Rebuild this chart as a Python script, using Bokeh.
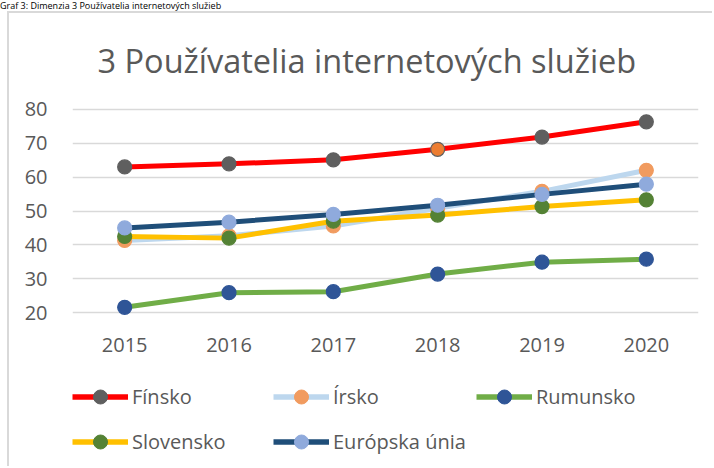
from bokeh.plotting import figure
from bokeh.models import (FactorRange, Range1d, FixedTicker, Legend, LegendItem,
                          ColumnDataSource, Title, Div)
from bokeh.layouts import column
from bokeh.embed import file_html
from bokeh.resources import INLINE

# ---------------- data ----------------
years = ["2015", "2016", "2017", "2018", "2019", "2020"]
finsko = [63.0, 63.9, 65.1, 68.2, 71.8, 76.3]
irsko = [41.3, 42.7, 45.6, 50.8, 55.8, 62.0]
rumunsko = [21.6, 25.9, 26.2, 31.4, 34.9, 35.8]
slovensko = [42.5, 42.0, 47.0, 48.8, 51.3, 53.3]
eu = [45.0, 46.7, 49.0, 51.7, 54.9, 57.9]
y_ticks = [20, 30, 40, 50, 60, 70, 80]
series_names = ["Fínsko", "Írsko", "Rumunsko", "Slovensko", "Európska únia"]
title_text = "3 Používatelia internetových služieb"
caption_text = "Graf 3: Dimenzia 3 Používatelia internetových služieb"

# ---------------- layout (page pixels) ----------------
PAGE_W, PAGE_H = 714, 468
CAP_H = 11                  # caption strip above the chart box
BOX_X, BORDER = 7, 2        # chart box: left offset and border width
OX, OY = BOX_X + BORDER, CAP_H + BORDER
W = PAGE_W - OX
F_LEFT, F_RIGHT, F_TOP, F_BOTTOM = 72, 698, 102, 319   # plot frame, page px
XAXIS_H = 50
MAIN_H = (F_BOTTOM - OY) + XAXIS_H
LEG_H = PAGE_H - OY - MAIN_H
LEG_ROW1_CENTER = 398
GLYPH_H, LEG_SPACING = 35, 10
LEG_X_SHIFT = 0
Y0, Y1 = 18, 82
FONT = "Open Sans"
GRAY = "#595959"
BORDER_CSS = f"{BORDER}px solid #d9d9d9"

# ---------------- main chart ----------------
p = figure(width=W, height=MAIN_H, output_backend="svg", toolbar_location=None,
           x_range=FactorRange(*years, range_padding=0),
           y_range=Range1d(Y0, Y1),
           min_border_left=F_LEFT - OX, min_border_right=PAGE_W - F_RIGHT,
           min_border_top=F_TOP - OY, min_border_bottom=XAXIS_H)
p.outline_line_color = None
p.margin = (0, 0, 0, BOX_X)
p.styles = {"border-left": BORDER_CSS, "border-top": BORDER_CSS}

p.title = Title(text=title_text, align="left", offset=25, standoff=40,
                text_font=FONT, text_font_size="32.5px", text_font_style="normal",
                text_color=GRAY)

p.yaxis.ticker = FixedTicker(ticks=y_ticks)
p.ygrid.ticker = FixedTicker(ticks=y_ticks)
for ax in (p.xaxis[0], p.yaxis[0]):
    ax.axis_line_color = None
    ax.major_tick_line_color = None
    ax.minor_tick_line_color = None
    ax.major_tick_out = 0
    ax.major_tick_in = 0
    ax.major_label_text_font = FONT
    ax.major_label_text_font_size = "20px"
    ax.major_label_text_color = GRAY
p.yaxis.major_label_standoff = 25
p.xaxis.major_label_standoff = 18
p.xgrid.grid_line_color = None
p.ygrid.grid_line_color = "#d9d9d9"
p.ygrid.grid_line_width = 1.3

src = ColumnDataSource(dict(x=years, fin=finsko, irl=irsko, rou=rumunsko,
                            svk=slovensko, eu=eu))
fin_fill = ["#5f5f5f"] * len(years)
fin_fill[years.index("2018")] = "#ed7d31"
src.data["fin_fill"] = fin_fill

styles = [
    ("fin", "#ff0000", "fin_fill", "#5f5f5f"),
    ("irl", "#bdd7ee", "#f19b5f", "#f19b5f"),
    ("rou", "#70ad47", "#2f5597", "#2f5597"),
    ("svk", "#ffc000", "#548235", "#548235"),
    ("eu", "#1f4e79", "#8faadc", "#8faadc"),
]
for col, lc, fc, mc in styles:
    p.line("x", col, source=src, line_color=lc, line_width=5, line_join="round")
    p.scatter("x", col, source=src, size=14, marker="circle",
              fill_color=fc, line_color=mc, line_width=1.2)

# ---------------- legend strip (own small canvas) ----------------
lg = figure(width=W, height=LEG_H, output_backend="svg", toolbar_location=None,
            x_range=Range1d(0, 1), y_range=Range1d(0, 1),
            x_axis_type=None, y_axis_type=None,
            min_border_left=0, min_border_right=0, min_border_top=0,
            min_border_bottom=0)
lg.outline_line_color = None
lg.grid.visible = False
lg.margin = (0, 0, 0, BOX_X)
lg.styles = {"border-left": BORDER_CSS}

# legend swatches: one off-canvas point each, only their legend glyphs show
items = []
for (col, lc, fc, mc), name in zip(styles, series_names):
    fill = "#5f5f5f" if fc == "fin_fill" else fc
    ln = lg.line(x=[-2, -1], y=[-2, -1], line_color=lc, line_width=5.5)
    sc = lg.scatter(x=[-2], y=[-2], size=13, marker="circle",
                    fill_color=fill, line_color=mc, line_width=1)
    items.append(LegendItem(label=name, renderers=[ln, sc]))

leg_height = 2 * GLYPH_H + LEG_SPACING
leg_top = LEG_ROW1_CENTER - GLYPH_H / 2 - (OY + MAIN_H)
legend = Legend(items=items, orientation="horizontal", nrows=2,
                location=(LEG_X_SHIFT, LEG_H - leg_top - leg_height),
                glyph_width=56, glyph_height=GLYPH_H, label_width=131,
                label_standoff=4, spacing=LEG_SPACING, padding=0, margin=0,
                label_text_font=FONT, label_text_font_size="20px",
                label_text_color=GRAY, border_line_color=None,
                background_fill_alpha=0)
lg.add_layout(legend, "center")

caption = Div(text=caption_text, width=PAGE_W, height=CAP_H,
              styles={"font-family": FONT, "font-size": "9px",
                      "line-height": f"{CAP_H}px", "color": "black",
                      "margin": "0", "padding": "0"})

layout = column(caption, p, lg, spacing=0)
open("out.html", "w").write(file_html(layout, INLINE))
